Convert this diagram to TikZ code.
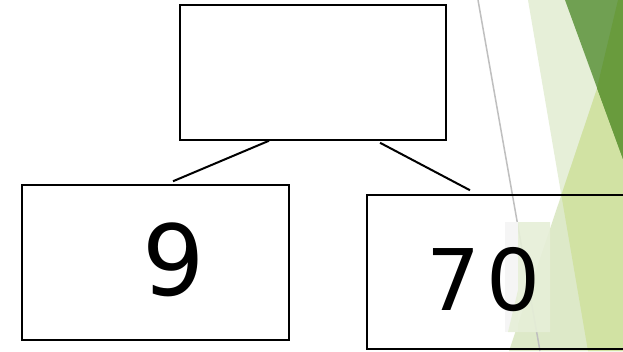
\documentclass[tikz,border=0pt]{standalone}
\usepackage{fontspec}
\setmainfont{DejaVu Sans}
\usetikzlibrary{positioning}
\definecolor{facetpale}{HTML}{E6EFD8}
\definecolor{facetlight}{HTML}{DDE9C8}
\definecolor{facetmid}{HTML}{D1E2A3}
\definecolor{facetdark}{HTML}{70A052}
\definecolor{facetdeep}{HTML}{699B3D}

\begin{document}
\begin{tikzpicture}[x=1pt, y=-1pt
    , box/.style={draw, line width=1.5pt, inner sep=0pt}
    , edge/.style={line width=2pt}
    , digit/.style={anchor=base, inner sep=0pt}
    ]
    \clip (0,0) rectangle (623,351);
    \fill[white] (0,0) rectangle (623,351);
    % theme shapes
    \fill[facetpale] (528,0) -- (623,0) -- (623,351) -- (588,351) -- cycle;
    \fill[facetlight] (610,50) -- (509,351) -- (623,351) -- (623,80) -- cycle;
    \begin{scope}
      \clip (528,0) -- (623,0) -- (623,351) -- (588,351) -- cycle;
      \fill[facetmid] (610,50) -- (509,351) -- (623,351) -- (623,80) -- cycle;
    \end{scope}
    \fill[facetdark] (565,0) -- (623,0) -- (623,159) -- cycle;
    \fill[facetdeep] (618,0) -- (623,0) -- (623,159) -- (597,88) -- cycle;
    \draw[gray!50, line width=1.5pt] (478,0) -- (540,351);
    \fill[black!4] (505,222) rectangle (518,332);
    \fill[facetpale, opacity=0.9] (518,222) -- (550,222) -- (550,332) -- (508,332) -- (518,290) -- cycle;

    \node[box, minimum width=266pt, minimum height=135pt] (root) at (313,72.5) {};
    \node[box, minimum width=267pt, minimum height=155pt] (left) at (155.5,262.5) {};
    \node[box, minimum width=270pt, minimum height=154pt] (right) at (502,272) {};

    \node[digit, font=\fontsize{98}{98}\selectfont] (nine) at (174,295) {9};
    \node[digit, font=\fontsize{85}{85}\selectfont] (seventy) at (484,310) {7\hspace{6pt}0};

    \draw[edge] ([xshift=-44pt]root.south) -- ([xshift=17.5pt, yshift=3pt]left.north);
    \draw[edge] ([xshift=67pt, yshift=-2pt]root.south) -- ([xshift=-32pt, yshift=4pt]right.north);
\end{tikzpicture}
\end{document}
